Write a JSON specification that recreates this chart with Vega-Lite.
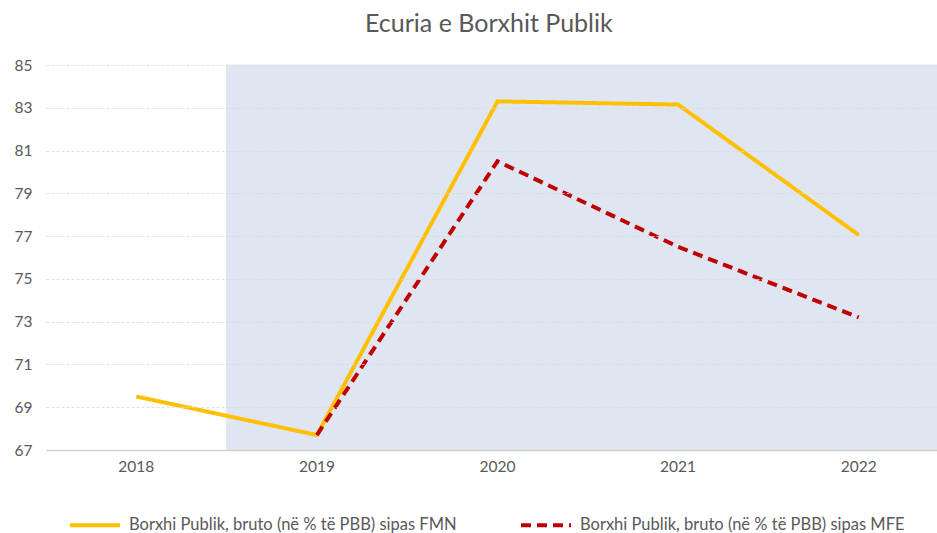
{
  "$schema": "https://vega.github.io/schema/vega-lite/v6.json",
  "autosize": "none",
  "padding": {"left": 46, "top": 65, "right": 0, "bottom": 83},
  "width": 891,
  "height": 385,
  "background": "white",
  "title": {"text": "Ecuria e Borxhit Publik", "fontSize": 25, "font": "Lato", "fontWeight": "normal", "color": "#595959", "offset": 21, "anchor": "start", "dx": 319, "frame": "group"},
  "config": {"view": {"stroke": null}, "font": "Lato"},
  "datasets": {
    "shade": [{"year": "2019"}, {"year": "2020"}, {"year": "2021"}, {"year": "2022"}],
    "debt": [
      {"year": "2018", "series": "Borxhi Publik, bruto (në % të PBB) sipas FMN", "value": 69.5},
      {"year": "2019", "series": "Borxhi Publik, bruto (në % të PBB) sipas FMN", "value": 67.7},
      {"year": "2020", "series": "Borxhi Publik, bruto (në % të PBB) sipas FMN", "value": 83.3},
      {"year": "2021", "series": "Borxhi Publik, bruto (në % të PBB) sipas FMN", "value": 83.15},
      {"year": "2022", "series": "Borxhi Publik, bruto (në % të PBB) sipas FMN", "value": 77.05},
      {"year": "2019", "series": "Borxhi Publik, bruto (në % të PBB) sipas MFE", "value": 67.7},
      {"year": "2020", "series": "Borxhi Publik, bruto (në % të PBB) sipas MFE", "value": 80.5},
      {"year": "2021", "series": "Borxhi Publik, bruto (në % të PBB) sipas MFE", "value": 76.5},
      {"year": "2022", "series": "Borxhi Publik, bruto (në % të PBB) sipas MFE", "value": 73.2}
    ]
  },
  "layer": [
    {
      "data": {"name": "shade"},
      "mark": {"type": "bar", "color": "#dfe6f2", "stroke": "#dfe6f2", "strokeWidth": 1, "opacity": 1},
      "encoding": {
        "x": {"field": "year", "type": "ordinal", "scale": {"domain": ["2018", "2019", "2020", "2021", "2022"], "range": [0, 903], "paddingInner": 0, "paddingOuter": 0}, "axis": {"title": null, "labelAngle": 0, "labelFontSize": 15.5, "labelColor": "#595959", "labelPadding": 9, "ticks": false, "domainColor": "#d0d0d0", "domainWidth": 1.5, "zindex": 1}},
        "y": {"datum": 85, "type": "quantitative", "scale": {"domain": [67, 85], "zero": false, "nice": false}, "axis": {"title": null, "values": [67, 69, 71, 73, 75, 77, 79, 81, 83, 85], "labelFontSize": 15.5, "labelColor": "#595959", "labelPadding": 14, "ticks": false, "domain": false, "grid": true, "gridColor": "#d9d9d9", "gridDash": [3, 2], "gridWidth": 0.8, "zindex": 1}},
        "y2": {"datum": 67}
      }
    },
    {
      "data": {"name": "debt"},
      "mark": {"type": "line", "strokeWidth": 4, "strokeCap": "butt", "strokeJoin": "miter"},
      "encoding": {
        "x": {"field": "year", "type": "ordinal"},
        "y": {"field": "value", "type": "quantitative"},
        "color": {"field": "series", "type": "nominal", "scale": {"range": ["#ffc000", "#c00000"]}, "legend": {"title": null, "orient": "none", "legendX": 22, "legendY": 433, "direction": "horizontal", "symbolType": "stroke", "symbolSize": 2500, "symbolStrokeWidth": 4, "labelFontSize": 16.5, "labelColor": "#595959", "labelLimit": 500, "columnPadding": 56, "labelOffset": 7}},
        "strokeDash": {"field": "series", "type": "nominal", "scale": {"range": [[1, 0], [10, 6]]}, "legend": null}
      }
    }
  ]
}
